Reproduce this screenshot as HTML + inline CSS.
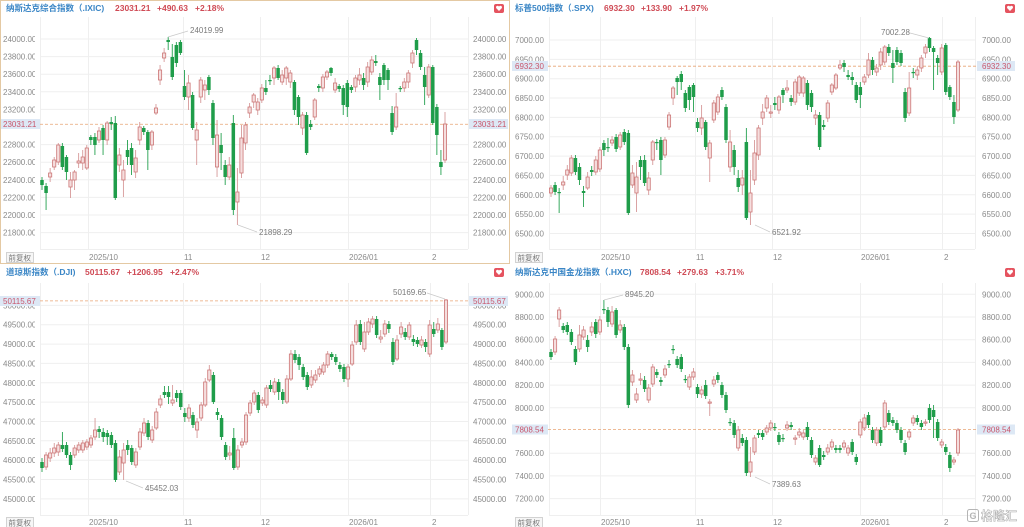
<!DOCTYPE html>
<html><head><meta charset="utf-8"><style>
html,body{margin:0;padding:0;background:#fff;width:1024px;height:527px;overflow:hidden}
svg{display:block}
text{font-family:"Liberation Sans","Noto Sans CJK SC",sans-serif}
.ax{font-size:8px;fill:#8a8a8a}
.ttl{font-size:8.5px;font-weight:bold;fill:#3a86c6}
.val{font-size:8.5px;font-weight:bold;fill:#cf4a55}
.ann{font-size:8px;fill:#7a7a7a}
.pb{font-size:8px;fill:#c8566c}
.fq{font-size:7.5px;fill:#777}
</style></head><body>
<svg id="s" width="1024" height="527" viewBox="0 0 1024 527" xmlns="http://www.w3.org/2000/svg">
<defs>
<clipPath id="cl1"><rect x="0" y="0" width="35" height="527"/></clipPath>
</defs>
<rect x="0" y="0" width="1024" height="527" fill="#fff"/>
<g id="grid" stroke="#efefef" stroke-width="1"></g>
<g id="dash"></g>
<g id="candles"></g>
<g id="txt">
<!-- Panel 1 -->
<text class="ttl" x="6" y="11">纳斯达克综合指数（.IXIC)</text>
<text class="val" x="115" y="11">23031.21</text>
<text class="val" x="157" y="11">+490.63</text>
<text class="val" x="195" y="11">+2.18%</text>
<g clip-path="url(#cl1)">
<text class="ax" x="3" y="42">24000.00</text>
<text class="ax" x="3" y="59.6">23800.00</text>
<text class="ax" x="3" y="77.2">23600.00</text>
<text class="ax" x="3" y="94.8">23400.00</text>
<text class="ax" x="3" y="112.4">23200.00</text>
<text class="ax" x="3" y="147.6">22800.00</text>
<text class="ax" x="3" y="165.2">22600.00</text>
<text class="ax" x="3" y="182.8">22400.00</text>
<text class="ax" x="3" y="200.4">22200.00</text>
<text class="ax" x="3" y="218">22000.00</text>
<text class="ax" x="3" y="235.6">21800.00</text>
</g>
<text class="ax" x="473" y="42">24000.00</text>
<text class="ax" x="473" y="59.6">23800.00</text>
<text class="ax" x="473" y="77.2">23600.00</text>
<text class="ax" x="473" y="94.8">23400.00</text>
<text class="ax" x="473" y="112.4">23200.00</text>
<text class="ax" x="473" y="147.6">22800.00</text>
<text class="ax" x="473" y="165.2">22600.00</text>
<text class="ax" x="473" y="182.8">22400.00</text>
<text class="ax" x="473" y="200.4">22200.00</text>
<text class="ax" x="473" y="218">22000.00</text>
<text class="ax" x="473" y="235.6">21800.00</text>
<text class="ax" x="89" y="260">2025/10</text>
<text class="ax" x="184" y="260">11</text>
<text class="ax" x="261" y="260">12</text>
<text class="ax" x="349" y="260">2026/01</text>
<text class="ax" x="432" y="260">2</text>
<text class="ann" x="190" y="33">24019.99</text>
<text class="ann" x="259" y="235">21898.29</text>

<!-- Panel 2 -->
<text class="ttl" x="515" y="11">标普500指数（.SPX)</text>
<text class="val" x="604" y="11">6932.30</text>
<text class="val" x="641" y="11">+133.90</text>
<text class="val" x="679" y="11">+1.97%</text>
<text class="ax" x="515" y="43">7000.00</text>
<text class="ax" x="515" y="62.4">6950.00</text>
<text class="ax" x="515" y="81.7">6900.00</text>
<text class="ax" x="515" y="101">6850.00</text>
<text class="ax" x="515" y="120.4">6800.00</text>
<text class="ax" x="515" y="139.7">6750.00</text>
<text class="ax" x="515" y="159.1">6700.00</text>
<text class="ax" x="515" y="178.4">6650.00</text>
<text class="ax" x="515" y="197.8">6600.00</text>
<text class="ax" x="515" y="217.1">6550.00</text>
<text class="ax" x="515" y="236.5">6500.00</text>
<text class="ax" x="982" y="43">7000.00</text>
<text class="ax" x="982" y="62.4">6950.00</text>
<text class="ax" x="982" y="81.7">6900.00</text>
<text class="ax" x="982" y="101">6850.00</text>
<text class="ax" x="982" y="120.4">6800.00</text>
<text class="ax" x="982" y="139.7">6750.00</text>
<text class="ax" x="982" y="159.1">6700.00</text>
<text class="ax" x="982" y="178.4">6650.00</text>
<text class="ax" x="982" y="197.8">6600.00</text>
<text class="ax" x="982" y="217.1">6550.00</text>
<text class="ax" x="982" y="236.5">6500.00</text>
<text class="ax" x="601" y="260">2025/10</text>
<text class="ax" x="696" y="260">11</text>
<text class="ax" x="773" y="260">12</text>
<text class="ax" x="861" y="260">2026/01</text>
<text class="ax" x="944" y="260">2</text>
<text class="ann" x="881" y="35">7002.28</text>
<text class="ann" x="772" y="235">6521.92</text>

<!-- Panel 3 -->
<text class="ttl" x="6" y="275">道琼斯指数（.DJI)</text>
<text class="val" x="85" y="275">50115.67</text>
<text class="val" x="127" y="275">+1206.95</text>
<text class="val" x="170" y="275">+2.47%</text>
<g clip-path="url(#cl1)">
<text class="ax" x="3" y="308.4">50000.00</text>
<text class="ax" x="3" y="327.7">49500.00</text>
<text class="ax" x="3" y="347.1">49000.00</text>
<text class="ax" x="3" y="366.4">48500.00</text>
<text class="ax" x="3" y="385.8">48000.00</text>
<text class="ax" x="3" y="405.1">47500.00</text>
<text class="ax" x="3" y="424.5">47000.00</text>
<text class="ax" x="3" y="443.8">46500.00</text>
<text class="ax" x="3" y="463.2">46000.00</text>
<text class="ax" x="3" y="482.5">45500.00</text>
<text class="ax" x="3" y="501.9">45000.00</text>
</g>
<text class="ax" x="473" y="308.4">50000.00</text>
<text class="ax" x="473" y="327.7">49500.00</text>
<text class="ax" x="473" y="347.1">49000.00</text>
<text class="ax" x="473" y="366.4">48500.00</text>
<text class="ax" x="473" y="385.8">48000.00</text>
<text class="ax" x="473" y="405.1">47500.00</text>
<text class="ax" x="473" y="424.5">47000.00</text>
<text class="ax" x="473" y="443.8">46500.00</text>
<text class="ax" x="473" y="463.2">46000.00</text>
<text class="ax" x="473" y="482.5">45500.00</text>
<text class="ax" x="473" y="501.9">45000.00</text>
<text class="ax" x="89" y="525">2025/10</text>
<text class="ax" x="184" y="525">11</text>
<text class="ax" x="261" y="525">12</text>
<text class="ax" x="349" y="525">2026/01</text>
<text class="ax" x="432" y="525">2</text>
<text class="ann" x="393" y="295">50169.65</text>
<text class="ann" x="145" y="491">45452.03</text>

<!-- Panel 4 -->
<text class="ttl" x="515" y="275">纳斯达克中国金龙指数（.HXC)</text>
<text class="val" x="640" y="275">7808.54</text>
<text class="val" x="677" y="275">+279.63</text>
<text class="val" x="715" y="275">+3.71%</text>
<text class="ax" x="515" y="297.3">9000.00</text>
<text class="ax" x="515" y="320">8800.00</text>
<text class="ax" x="515" y="342.7">8600.00</text>
<text class="ax" x="515" y="365.4">8400.00</text>
<text class="ax" x="515" y="388.1">8200.00</text>
<text class="ax" x="515" y="410.8">8000.00</text>
<text class="ax" x="515" y="456.2">7600.00</text>
<text class="ax" x="515" y="478.9">7400.00</text>
<text class="ax" x="515" y="501.6">7200.00</text>
<text class="ax" x="982" y="297.3">9000.00</text>
<text class="ax" x="982" y="320">8800.00</text>
<text class="ax" x="982" y="342.7">8600.00</text>
<text class="ax" x="982" y="365.4">8400.00</text>
<text class="ax" x="982" y="388.1">8200.00</text>
<text class="ax" x="982" y="410.8">8000.00</text>
<text class="ax" x="982" y="456.2">7600.00</text>
<text class="ax" x="982" y="478.9">7400.00</text>
<text class="ax" x="982" y="501.6">7200.00</text>
<text class="ax" x="601" y="525">2025/10</text>
<text class="ax" x="696" y="525">11</text>
<text class="ax" x="773" y="525">12</text>
<text class="ax" x="861" y="525">2026/01</text>
<text class="ax" x="944" y="525">2</text>
<text class="ann" x="625" y="297">8945.20</text>
<text class="ann" x="772" y="487">7389.63</text>
</g>

<!-- annotation leader lines -->
<g stroke="#c9c9c9" stroke-width="0.7" fill="none">
<line x1="168" y1="37" x2="188" y2="31"/>
<line x1="238" y1="225" x2="257" y2="232"/>
<line x1="910" y1="33" x2="929" y2="38"/>
<line x1="755" y1="225" x2="770" y2="232"/>
<line x1="427" y1="293" x2="445" y2="299"/>
<line x1="126" y1="481" x2="143" y2="488"/>
<line x1="604" y1="300" x2="623" y2="295"/>
<line x1="755" y1="477" x2="770" y2="484"/>
</g>

<!-- price boxes -->
<g>
<rect x="0" y="119" width="40" height="10" fill="#dde8f5"/><text class="pb" x="3" y="127">23031.21</text>
<rect x="469" y="119" width="39" height="10" fill="#dde8f5"/><text class="pb" x="473" y="127">23031.21</text>
<rect x="512" y="61" width="36" height="10" fill="#dde8f5"/><text class="pb" x="515" y="69">6932.30</text>
<rect x="977" y="61" width="38" height="10" fill="#dde8f5"/><text class="pb" x="982" y="69">6932.30</text>
<rect x="0" y="296" width="40" height="10" fill="#dde8f5"/><text class="pb" x="3" y="304">50115.67</text>
<rect x="469" y="296" width="39" height="10" fill="#dde8f5"/><text class="pb" x="473" y="304">50115.67</text>
<rect x="512" y="424.5" width="36" height="10" fill="#dde8f5"/><text class="pb" x="515" y="432.5">7808.54</text>
<rect x="977" y="424.5" width="38" height="10" fill="#dde8f5"/><text class="pb" x="982" y="432.5">7808.54</text>
</g>

<!-- 前复权 boxes -->
<g>
<rect x="6.5" y="252.5" width="27" height="10" fill="#f6f6f6" stroke="#c8c8c8" stroke-width="0.8"/><text class="fq" x="8.5" y="260.5">前复权</text>
<rect x="515.5" y="252.5" width="27" height="10" fill="#f6f6f6" stroke="#c8c8c8" stroke-width="0.8"/><text class="fq" x="517.5" y="260.5">前复权</text>
<rect x="6.5" y="517.5" width="27" height="10" fill="#f6f6f6" stroke="#c8c8c8" stroke-width="0.8"/><text class="fq" x="8.5" y="525.5">前复权</text>
<rect x="515.5" y="517.5" width="27" height="10" fill="#f6f6f6" stroke="#c8c8c8" stroke-width="0.8"/><text class="fq" x="517.5" y="525.5">前复权</text>
</g>

<!-- hearts -->
<g id="hearts"></g>

<!-- top-left selected border -->
<rect x="0.5" y="0.5" width="509" height="263" fill="none" stroke="#e4c9a3" stroke-width="1"/>

<!-- watermark -->
<g>
<rect x="967.5" y="509.5" width="11" height="12" rx="2" fill="none" stroke="#b5b5b5" stroke-width="1"/>
<text x="969.5" y="519" style="font-size:9px;font-weight:bold;fill:#b5b5b5">G</text>
<text x="981" y="520" style="font-size:12px;font-weight:bold;fill:#fff;stroke:#b0b0b0;stroke-width:0.6">格隆汇</text>
</g>
</svg>
<script>
(function(){
var NS="http://www.w3.org/2000/svg";
function el(tag,attrs,parent){var e=document.createElementNS(NS,tag);for(var k in attrs)e.setAttribute(k,attrs[k]);parent.appendChild(e);return e;}
var grid=document.getElementById('grid'),dash=document.getElementById('dash'),cg=document.getElementById('candles'),hg=document.getElementById('hearts');
function panelGrid(x1,x2,y1,y2,vx,hy){
 vx.forEach(function(x){el('line',{x1:x+.5,y1:y1,x2:x+.5,y2:y2},grid);});
 hy.forEach(function(y){el('line',{x1:x1,y1:y,x2:x2,y2:y},grid);});
 el('line',{x1:x1+.5,y1:y1,x2:x1+.5,y2:y2},grid);
 el('line',{x1:x2+.5,y1:y1,x2:x2+.5,y2:y2},grid);
 el('line',{x1:x1,y1:y2+.5,x2:x2,y2:y2+.5},grid);
}
panelGrid(40,468,17,249,[88,183,260,348,430],[39,56.6,74.2,91.8,109.4,144.6,162.2,179.8,197.4,215,232.6]);
panelGrid(549,975,17,249,[600,695,772,860,942],[40,59.4,78.7,98,117.4,136.7,156.1,175.4,194.8,214.1,233.5]);
panelGrid(40,468,283,515,[88,183,260,348,430],[305.4,324.7,344.1,363.4,382.8,402.1,421.5,440.8,460.2,479.5,498.9]);
panelGrid(549,975,283,515,[600,695,772,860,942],[294.3,317,339.7,362.4,385.1,407.8,453.2,475.9,498.6]);
function dl(x1,x2,y){el('line',{x1:x1,y1:y,x2:x2,y2:y,stroke:'#e8a474','stroke-width':0.8,'stroke-dasharray':'3,2'},dash);}
dl(40,469,124.25);dl(548,977,66.2);dl(40,469,300.9);dl(548,977,429.5);
function heart(x,y){
 el('rect',{x:x,y:y,width:10,height:9,rx:2,fill:'#e5535f'},hg);
 el('path',{d:'M'+(x+5)+' '+(y+7)+' L'+(x+2.3)+' '+(y+4.2)+' A1.5 1.5 0 0 1 '+(x+5)+' '+(y+2.6)+' A1.5 1.5 0 0 1 '+(x+7.7)+' '+(y+4.2)+' Z',fill:'#fff'},hg);
}
heart(494,4);heart(1005,4);heart(494,268);heart(1005,268);
function draw(data,x0,x1){
 var step=(x1-x0)/(data.length-1);
 data.forEach(function(d,i){
  var cx=x0+i*step,red=d[2]===1;
  var wt=d.length>3?d[3]:d[0]-3,wb=d.length>4?d[4]:d[1]+3;
  el('line',{x1:cx,y1:wt,x2:cx,y2:wb,stroke:red?'#d69999':'#23a04e','stroke-width':0.9},cg);
  var h=Math.max(1.2,d[1]-d[0]);
  if(red) el('rect',{x:cx-1.6,y:d[0],width:3.2,height:h,fill:'#f5dede',stroke:'#cc7676','stroke-width':0.8},cg);
  else el('rect',{x:cx-1.75,y:d[0],width:3.5,height:h,fill:'#1f9d4a'},cg);
 });
}
var p1=[[180,185,0,177,190],[186,193,0,183,210],[173,177,1,168,182],[160,167,1,157,170],[145,162,1,143,165],[146,167,0,143,170],[157,172,0,155,180],[180,187,1,172,198],[172,180,1,170,190],[161,163,1,153,168],[157,163,1,150,170],[148,168,1,145,170],[137,140,0,135,145],[137,145,0,133,155],[131,140,1,127,143],[128,140,0,125,155],[123,140,1,121,145],[122,124,0,117,130],[123,198,0,116,200],[155,165,1,148,172],[170,180,1,160,197],[150,157,0,140,165],[148,165,0,143,175],[158,172,1,150,178],[127,140,1,122,145],[128,132,0,126,135],[132,150,0,130,170],[132,145,1,130,150],[108,113,1,104,115],[70,80,1,65,85],[53,58,1,48,62],[40,42,0,37,50],[57,77,0,44,80],[45,63,0,42,67],[42,53,0,40,55],[86,97,0,70,100],[83,97,1,75,110],[95,128,0,92,130],[130,140,1,122,165],[80,97,1,77,103],[85,90,1,80,100],[77,90,0,75,95],[103,138,0,100,145],[135,167,1,120,177],[145,153,0,133,170],[165,177,0,160,185],[165,177,1,157,180],[123,210,0,115,215],[192,202,1,168,225],[138,173,1,125,178],[125,143,1,122,150],[107,113,1,103,118],[95,102,1,93,108],[102,110,1,98,115],[88,100,1,84,103],[88,92,0,80,95],[80,81,0,75,85],[68,78,1,66,85],[68,78,0,65,80],[75,82,1,70,85],[68,78,1,66,85],[73,82,1,70,88],[82,110,0,80,115],[97,117,0,95,125],[115,128,1,112,135],[115,153,0,112,155],[124,127,0,120,130],[100,117,1,98,120],[86,88,0,84,92],[77,88,1,74,92],[72,77,1,70,80],[68,73,0,67,76],[83,90,1,78,93],[86,89,0,84,92],[88,105,0,85,115],[83,107,0,80,117],[87,90,0,85,93],[78,87,1,75,92],[75,80,1,68,85],[78,85,0,73,90],[67,82,1,62,87],[60,72,1,56,75],[61,63,0,55,66],[77,85,0,73,100],[65,80,0,63,85],[70,80,0,68,90],[113,132,0,106,135],[107,127,1,93,130],[88,89,0,86,92],[82,88,1,78,92],[73,82,1,70,88],[53,63,1,50,68],[40,50,0,38,55],[53,67,0,50,70],[75,87,0,67,105],[67,95,1,64,98],[67,123,0,65,125],[107,135,0,104,155],[162,167,0,150,175],[124,160,1,112,163]];
var p2=[[188,193,1,185,197],[185,192,0,182,195],[192,193,0,188,213],[182,185,1,176,190],[170,175,1,165,180],[158,173,1,155,176],[158,172,0,155,175],[167,180,0,163,185],[191,193,0,186,207],[177,188,1,172,190],[170,172,0,166,176],[160,172,1,156,175],[150,169,1,147,172],[143,150,0,140,156],[147,148,0,138,152],[140,143,1,136,146],[137,149,0,134,152],[135,147,1,132,150],[132,142,0,129,145],[133,213,0,130,215],[173,185,1,165,188],[177,193,1,162,212],[160,167,0,156,180],[160,183,0,155,186],[178,190,1,172,195],[142,160,1,140,165],[142,143,0,139,150],[140,160,0,137,175],[140,155,1,137,158],[115,127,1,112,130],[88,98,1,86,105],[78,82,0,76,95],[74,82,0,71,90],[93,108,0,90,112],[87,100,0,85,110],[85,97,0,83,112],[122,128,0,118,132],[118,128,1,105,135],[122,147,0,120,150],[143,158,1,140,182],[103,120,1,100,123],[97,112,1,94,115],[90,97,0,87,100],[107,140,0,104,143],[142,167,1,130,172],[150,167,0,145,175],[178,187,0,170,192],[178,185,1,170,195],[142,218,0,128,220],[193,212,1,170,225],[153,180,1,140,185],[128,155,1,125,160],[112,118,1,104,125],[98,108,1,95,112],[112,113,1,105,118],[103,105,0,97,110],[97,110,1,95,114],[90,95,0,88,103],[88,90,1,80,93],[98,102,0,95,106],[82,102,1,79,105],[77,93,1,75,96],[78,93,1,76,97],[83,105,0,80,110],[93,107,0,90,112],[115,118,1,110,125],[115,147,0,112,150],[125,127,0,120,130],[103,118,1,100,122],[85,92,1,83,95],[75,88,1,73,90],[65,68,1,60,70],[63,67,0,60,72],[75,77,0,70,80],[77,80,0,72,85],[85,100,0,82,103],[87,95,0,82,108],[77,82,1,74,85],[60,75,1,53,78],[60,70,0,57,75],[68,72,1,64,76],[52,65,1,48,70],[47,62,1,45,65],[47,53,0,44,56],[63,68,0,50,83],[50,62,0,47,65],[53,63,0,50,66],[92,118,0,88,122],[88,113,1,72,116],[72,73,0,68,78],[70,75,1,66,80],[58,68,1,55,72],[47,53,1,44,58],[38,48,0,37,52],[48,52,0,46,90],[58,63,0,55,75],[48,72,1,44,75],[45,92,0,43,95],[87,97,0,85,100],[102,117,0,95,124],[62,110,1,60,112]];
var p3=[[462,468,0,458,472],[455,467,1,452,470],[453,458,1,448,462],[448,453,1,443,457],[445,452,1,442,456],[445,449,0,432,452],[445,455,0,442,458],[455,465,0,452,470],[448,455,1,445,458],[445,450,1,442,453],[443,450,1,440,453],[442,447,1,439,450],[438,445,1,435,448],[430,437,1,418,440],[429,432,0,426,438],[432,437,0,428,442],[433,437,0,430,445],[435,445,0,432,448],[443,480,0,440,482],[457,472,1,450,475],[450,463,1,443,480],[445,450,0,440,455],[448,462,0,445,465],[452,465,1,448,468],[432,447,1,428,450],[423,433,1,418,436],[423,437,0,420,440],[430,440,1,426,443],[412,428,1,408,430],[399,405,1,395,408],[392,395,0,386,398],[392,397,0,386,404],[400,403,1,385,406],[393,398,0,390,402],[393,407,0,390,410],[413,417,0,408,422],[408,418,1,404,422],[415,425,0,412,428],[422,430,1,418,438],[405,418,1,402,421],[382,405,1,378,407],[370,380,1,365,382],[375,402,0,372,404],[412,415,0,408,420],[418,437,0,415,440],[445,457,0,442,460],[453,455,1,446,460],[438,468,0,428,470],[450,467,1,445,470],[442,445,1,438,448],[415,442,1,412,445],[403,413,1,400,416],[393,402,1,390,405],[395,410,0,392,413],[400,403,1,397,406],[388,405,1,385,408],[385,389,0,380,392],[382,392,1,378,395],[382,392,0,379,400],[392,400,0,389,404],[379,402,1,375,404],[354,379,1,350,381],[354,360,0,350,363],[357,365,0,354,370],[367,377,0,364,380],[375,387,0,372,390],[377,385,1,370,388],[375,380,1,370,383],[369,374,1,366,377],[365,372,1,362,375],[354,365,1,351,368],[354,357,0,352,360],[357,362,0,354,365],[365,369,0,362,372],[367,379,0,364,382],[367,379,1,364,387],[345,364,1,341,366],[325,342,1,320,345],[324,342,0,320,345],[332,349,1,322,352],[322,332,1,318,335],[319,324,1,316,328],[319,335,0,316,338],[337,339,1,330,343],[324,334,1,320,337],[324,329,0,321,333],[342,362,0,338,365],[340,359,1,335,361],[327,334,1,322,338],[332,337,0,328,340],[325,337,1,322,340],[339,342,0,335,346],[340,344,0,337,347],[340,345,1,336,348],[342,347,0,339,352],[325,354,1,320,357],[329,334,0,322,337],[324,330,1,318,333],[330,347,0,328,350],[300,342,1,299,344]];
var p4=[[352,357,0,349,360],[339,352,1,336,355],[310,319,1,307,327],[326,330,0,323,333],[325,332,0,322,335],[332,342,0,329,345],[349,362,0,346,365],[335,349,1,325,352],[330,337,1,326,340],[340,347,0,335,352],[327,332,1,322,336],[322,334,0,319,338],[320,332,1,316,335],[309,310,0,300,314],[310,322,0,307,327],[312,324,1,306,327],[310,335,0,308,338],[325,330,1,320,333],[327,347,0,324,350],[347,405,0,344,408],[375,382,1,370,386],[394,400,1,388,403],[379,380,1,373,385],[380,389,0,376,392],[388,400,1,384,403],[367,384,1,364,387],[372,375,0,369,378],[380,382,0,377,386],[369,375,1,365,378],[364,365,0,360,368],[349,350,0,345,354],[359,365,0,356,368],[357,369,0,354,372],[379,380,0,375,383],[377,387,1,374,390],[372,377,1,368,380],[387,394,0,384,398],[390,394,1,386,398],[385,396,0,380,399],[402,403,1,399,416],[380,384,1,376,387],[375,380,0,372,383],[385,395,0,382,398],[395,410,0,392,413],[422,423,0,418,426],[423,435,0,420,438],[430,448,1,426,451],[438,443,0,434,446],[440,473,0,437,476],[462,472,1,447,477],[438,452,1,435,455],[433,435,0,430,438],[433,437,0,430,440],[428,432,1,425,435],[423,428,1,420,431],[427,428,0,423,431],[435,442,0,432,445],[438,439,0,434,442],[425,428,1,421,431],[425,427,0,422,430],[438,439,1,435,445],[432,435,1,428,438],[433,437,1,430,440],[427,437,0,422,440],[440,455,0,437,458],[458,462,1,455,465],[448,465,0,445,467],[455,457,0,451,460],[448,452,1,444,455],[442,447,1,439,450],[448,450,0,445,453],[448,450,0,445,453],[443,447,1,440,450],[448,453,1,445,456],[442,452,0,439,455],[457,462,0,454,465],[422,435,1,419,438],[418,428,1,414,431],[415,425,0,412,428],[430,440,0,427,443],[430,443,1,427,446],[430,443,0,427,446],[403,427,1,400,430],[413,422,0,410,425],[420,423,0,417,426],[423,430,0,420,433],[430,440,0,427,443],[443,452,0,440,455],[432,437,1,429,440],[418,423,1,415,426],[418,422,0,415,425],[423,427,0,420,430],[422,423,1,419,426],[408,420,0,404,423],[410,417,0,405,438],[422,438,0,419,441],[442,445,1,439,448],[447,452,0,444,455],[455,468,0,452,472],[460,462,1,457,465],[430,453,1,428,456]];
draw(p1,42,445);draw(p2,551,958);draw(p3,42,446);draw(p4,551,958);
})();
</script>
</body></html>
